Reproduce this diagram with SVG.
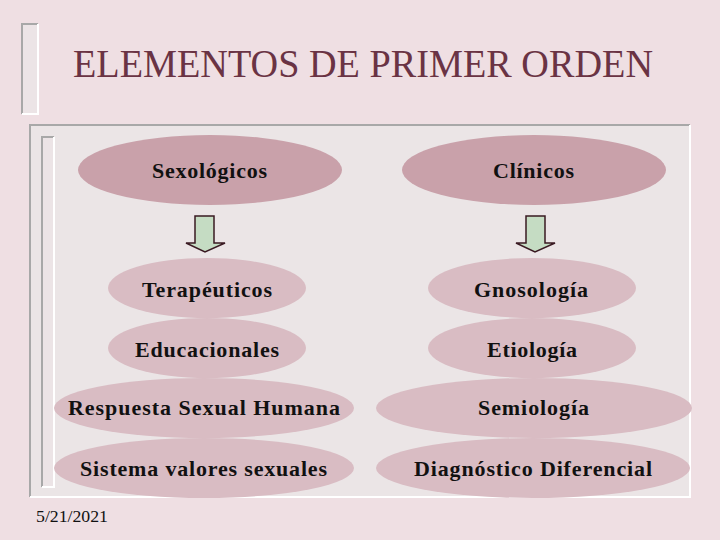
<svg xmlns="http://www.w3.org/2000/svg" width="720" height="540" viewBox="0 0 720 540">
<style>
.lbl{font-family:"Liberation Serif","Times New Roman",serif;font-size:22px;font-weight:bold;fill:#111;}
.top{fill:#c9a1aa;}
.sub{fill:#d9bcc3;}
.arr{fill:#c5dcc3;stroke:#3a1a22;stroke-width:1.5;}
</style>
<rect x="0" y="0" width="720" height="540" fill="#efdfe3"/>
<g id="title-bracket">
<rect x="22" y="24" width="16" height="90" fill="#ece4e6"/>
<path d="M22 114 V24 H38" fill="none" stroke="#a8a8a8" stroke-width="2"/>
<path d="M38 24 V114 H22" fill="none" stroke="#ffffff" stroke-width="2"/>
</g>
<text id="title" x="73" y="77" textLength="580" lengthAdjust="spacingAndGlyphs" style="font-family:'Liberation Serif','Times New Roman',serif;font-size:39px;fill:#6a3344">ELEMENTOS DE PRIMER ORDEN</text>
<g id="panel">
<rect x="30" y="125" width="660" height="372" fill="#ebe5e6"/>
<path d="M30 497 V125 H690" fill="none" stroke="#a8a8a8" stroke-width="2"/>
<path d="M690 125 V497 H30" fill="none" stroke="#ffffff" stroke-width="2"/>
<rect x="42" y="137" width="12" height="350" fill="#ece4e6"/>
<path d="M42 487 V137 H54" fill="none" stroke="#a8a8a8" stroke-width="2"/>
<path d="M54 137 V487 H42" fill="none" stroke="#ffffff" stroke-width="2"/>
</g>
<g id="connectors">
<path class="arr" d="M195 216 H214 V243 H225 L205 252 L186 243 H195 Z"/>
<path class="arr" d="M526 216 H545 V243 H555 L535 252 L516 243 H526 Z"/>
</g>
<g id="n-sexologicos"><ellipse class="top" cx="210" cy="170" rx="132" ry="35"/><text class="lbl" x="152" y="178" textLength="115" lengthAdjust="spacing">Sexológicos</text></g>
<g id="n-clinicos"><ellipse class="top" cx="534" cy="170" rx="132" ry="35"/><text class="lbl" x="493" y="178" textLength="81" lengthAdjust="spacing">Clínicos</text></g>
<g id="n-terapeuticos"><ellipse class="sub" cx="207" cy="288" rx="99" ry="30"/><text class="lbl" x="142" y="297" textLength="130" lengthAdjust="spacing">Terapéuticos</text></g>
<g id="n-gnosologia"><ellipse class="sub" cx="532" cy="288" rx="104" ry="30"/><text class="lbl" x="474" y="297" textLength="114" lengthAdjust="spacing">Gnosología</text></g>
<g id="n-educacionales"><ellipse class="sub" cx="207" cy="348" rx="99" ry="30"/><text class="lbl" x="135" y="357" textLength="144" lengthAdjust="spacing">Educacionales</text></g>
<g id="n-etiologia"><ellipse class="sub" cx="532" cy="348" rx="104" ry="30"/><text class="lbl" x="487" y="357" textLength="90" lengthAdjust="spacing">Etiología</text></g>
<g id="n-respuesta"><ellipse class="sub" cx="204" cy="408" rx="150" ry="30"/><text class="lbl" x="68" y="415" textLength="272" lengthAdjust="spacing">Respuesta Sexual Humana</text></g>
<g id="n-semiologia"><ellipse class="sub" cx="534" cy="408" rx="158" ry="30"/><text class="lbl" x="478" y="415" textLength="111" lengthAdjust="spacing">Semiología</text></g>
<g id="n-sistema"><ellipse class="sub" cx="204" cy="468" rx="150" ry="30"/><text class="lbl" x="80" y="476" textLength="247" lengthAdjust="spacing">Sistema valores sexuales</text></g>
<g id="n-diagnostico"><ellipse class="sub" cx="533" cy="468" rx="157" ry="30"/><text class="lbl" x="414" y="476" textLength="238" lengthAdjust="spacing">Diagnóstico Diferencial</text></g>
<text id="date" x="36" y="522" textLength="72" lengthAdjust="spacingAndGlyphs" style="font-family:'Liberation Serif','Times New Roman',serif;font-size:16px;fill:#111">5/21/2021</text>
</svg>
